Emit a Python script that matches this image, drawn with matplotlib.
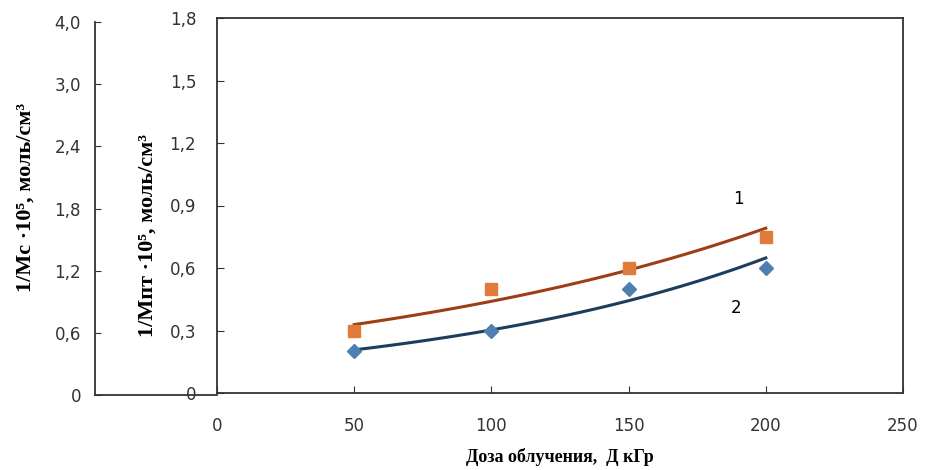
import matplotlib
matplotlib.use("Agg")
import matplotlib.pyplot as plt
import numpy as np

# данные
dose = [50, 100, 150, 200]
curve1 = [0.30, 0.50, 0.60, 0.75]   # 1/Mnt, квадраты
curve2 = [0.20, 0.30, 0.50, 0.60]   # ромбы
outer_labels = ["0", "0,6", "1,2", "1,8", "2,4", "3,0", "4,0"]
inner_ticks = [0, 0.3, 0.6, 0.9, 1.2, 1.5, 1.8]
x_ticks = [0, 50, 100, 150, 200, 250]

serif = ['Liberation Serif', 'DejaVu Serif']
plt.rcParams['font.family'] = ['DejaVu Sans']

W, H = 925, 470
fig = plt.figure(figsize=(W / 100, H / 100), dpi=100)

def rect(l, t, r, b):
    return [l / W, 1 - b / H, (r - l) / W, (b - t) / H]

# внешняя ось (1/Mc)
ax0 = fig.add_axes(rect(95, 22, 217, 395))
ax0.set_xlim(0, 1)
ax0.set_ylim(0, 6)
ax0.spines['top'].set_visible(False)
ax0.spines['right'].set_visible(False)
for s in ['left', 'bottom']:
    ax0.spines[s].set_linewidth(1.3)
    ax0.spines[s].set_color('#333333')
ax0.set_xticks([])
ax0.set_yticks(range(len(outer_labels)))
ax0.set_yticklabels(outer_labels)
ax0.tick_params(axis='y', direction='in', length=4, labelsize=12, pad=10, colors='#333333')
ax0.set_ylabel("1/Мс ·10⁵, моль/см³", family=serif, fontweight='bold', fontsize=16)
ax0.yaxis.set_label_coords(-0.49, 0.53)
ax0.patch.set_alpha(0)

# основная ось
ax = fig.add_axes(rect(217, 18, 903, 393))
ax.set_xlim(0, 250)
ax.set_ylim(0, 1.8)
for s in ax.spines.values():
    s.set_linewidth(1.3)
    s.set_color('#333333')
ax.set_xticks(x_ticks)
ax.set_yticks(inner_ticks)
ax.set_yticklabels(["0"] + [f"{v:.1f}".replace('.', ',') for v in inner_ticks[1:]])
ax.tick_params(axis='both', direction='in', length=5, labelsize=12, colors='#333333')
ax.tick_params(axis='x', pad=17)
ax.tick_params(axis='y', pad=15)

# экспоненциальные линии тренда
xs = np.linspace(50, 200, 100)
for ys, mcol, lcol, mk, ms in [(curve1, '#E07B39', '#9C3F14', 's', 9),
                               (curve2, '#4F7FB0', '#1C3D5E', 'D', 7)]:
    b, a = np.polyfit(dose, np.log(ys), 1)
    ax.plot(xs, np.exp(a + b * xs), color=lcol, lw=2.2, zorder=2)
    ax.plot(dose, ys, linestyle='none', marker=mk, ms=ms, color=mcol, zorder=3)

ax.text(190, 0.93, "1", fontsize=12, ha='center', va='center')
ax.text(189, 0.41, "2", fontsize=12, ha='center', va='center')

ax.set_xlabel("Доза облучения,  Д кГр", family=serif, fontweight='bold', fontsize=13, labelpad=10)
ax.set_ylabel("1/Мпт ·10⁵, моль/см³", family=serif, fontweight='bold', fontsize=16)
ax.yaxis.set_label_coords(-0.087, 0.42)

fig.savefig("out.png", dpi=100)
